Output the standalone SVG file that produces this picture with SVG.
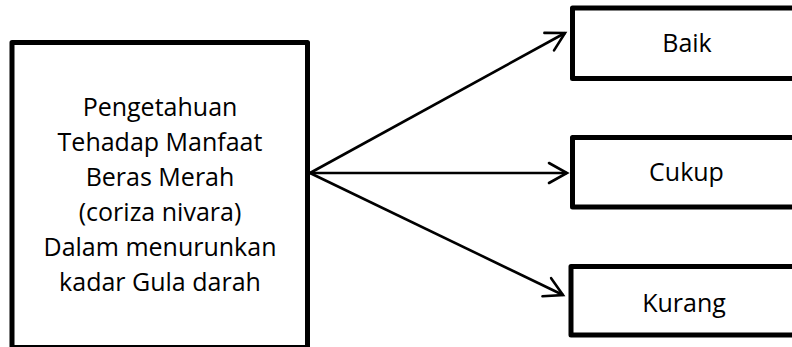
<svg xmlns="http://www.w3.org/2000/svg" width="792" height="347" viewBox="0 0 792 347">
  <style>
    .box { fill: #ffffff; stroke: #000000; stroke-width: 5; stroke-linejoin: round; }
    .lbl { font-family: "Open Sans", "Liberation Sans", sans-serif; font-size: 25px; fill: #000000; text-anchor: middle; }
    .conn { stroke: #000000; stroke-width: 2.6; fill: none; }
  </style>
  <defs>
    <marker id="arrow" markerUnits="userSpaceOnUse" markerWidth="24" markerHeight="24" viewBox="-20 -12 24 24" refX="0" refY="0" orient="auto" overflow="visible">
      <path d="M -18 -10 L 0 0 L -18 10" fill="none" stroke="#000000" stroke-width="2.6" stroke-linecap="round" stroke-linejoin="miter"/>
    </marker>
  </defs>
  <rect width="792" height="347" fill="#ffffff"/>
  <g id="connectors">
    <line class="conn" x1="310" y1="173" x2="565" y2="33" marker-end="url(#arrow)"/>
    <line class="conn" x1="310" y1="173" x2="567" y2="173" marker-end="url(#arrow)"/>
    <line class="conn" x1="310" y1="173" x2="563" y2="295" marker-end="url(#arrow)"/>
  </g>
  <g id="source">
    <rect class="box" x="12" y="42.5" width="295.5" height="305"/>
    <text class="lbl" x="160" y="116">Pengetahuan</text>
    <text class="lbl" x="160" y="151">Tehadap Manfaat</text>
    <text class="lbl" x="160" y="186">Beras Merah</text>
    <text class="lbl" x="160" y="221">(coriza nivara)</text>
    <text class="lbl" x="160" y="256">Dalam menurunkan</text>
    <text class="lbl" x="160" y="291">kadar Gula darah</text>
  </g>
  <g id="baik">
    <rect class="box" x="572.5" y="8" width="230" height="70.5"/>
    <text class="lbl" x="687" y="52">Baik</text>
  </g>
  <g id="cukup">
    <rect class="box" x="572.5" y="137.5" width="230" height="69.5"/>
    <text class="lbl" x="686.5" y="181">Cukup</text>
  </g>
  <g id="kurang">
    <rect class="box" x="571" y="266.5" width="230" height="68.5"/>
    <text class="lbl" x="684" y="312">Kurang</text>
  </g>
</svg>
